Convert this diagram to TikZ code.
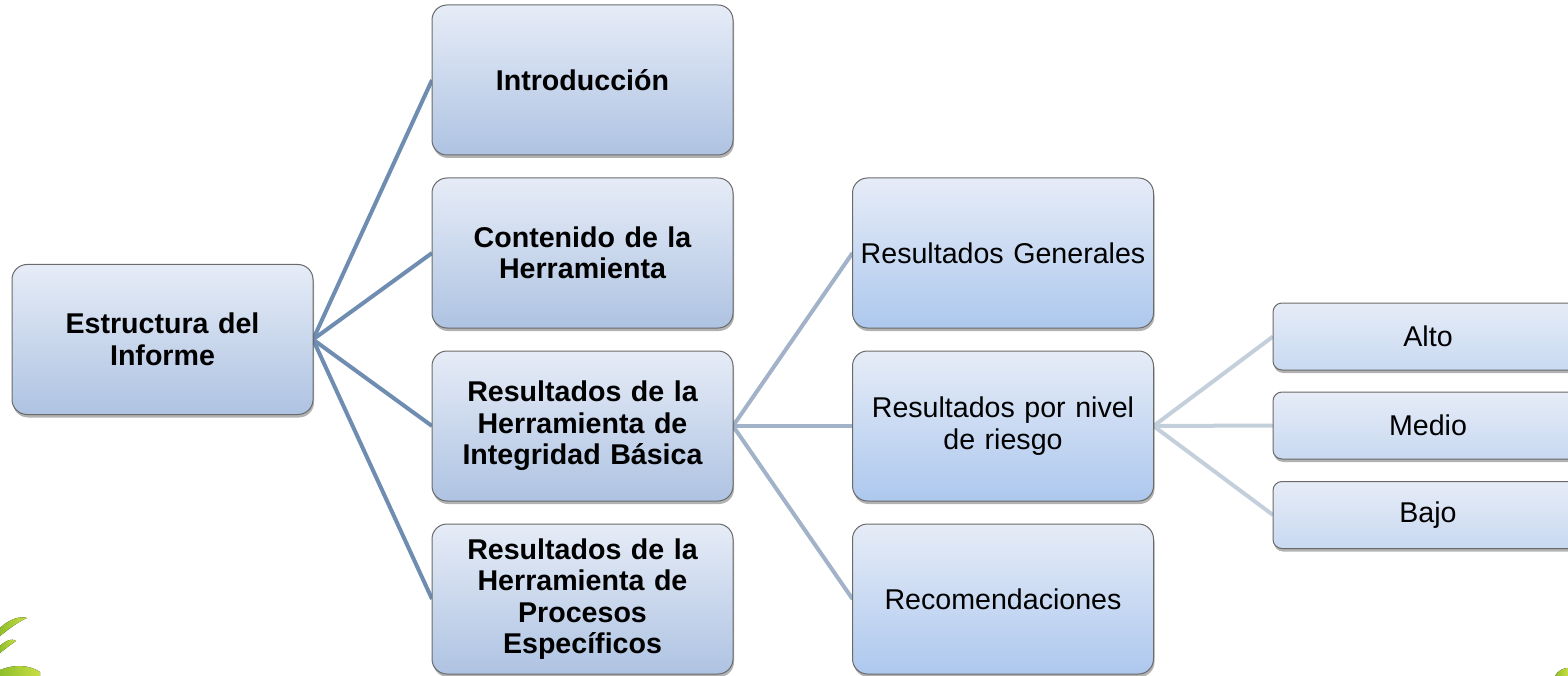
\documentclass[tikz,border=0pt]{standalone}
\usepackage{fontspec}
\setmainfont{Liberation Sans}
\usetikzlibrary{shadows,backgrounds}
\definecolor{boxtop}{HTML}{E6ECF7}
\definecolor{boxbotA}{HTML}{AEC3E2}
\definecolor{boxbotB}{HTML}{ADC8EE}
\definecolor{boxbotC}{HTML}{C8D9F1}
\definecolor{boxline}{HTML}{6A6A6A}
\definecolor{linkA}{HTML}{6F8CB1}
\definecolor{linkB}{HTML}{A2B2C8}
\definecolor{linkC}{HTML}{C4CFDC}
\definecolor{leafA}{HTML}{8FBF2A}
\definecolor{leafB}{HTML}{C9DE45}
\tikzset{
  basebox/.style={draw=boxline, line width=1pt, rounded corners=15pt,
    inner sep=0pt, outer sep=0pt, align=center, text width=290pt,
    font=\fontsize{28.6}{31.5}\selectfont,
    top color=boxtop,
    drop shadow={shadow xshift=1pt, shadow yshift=-3pt, opacity=0.3, fill=black}},
  bigbox/.style={basebox, minimum width=301pt, minimum height=150pt, bottom color=boxbotA},
  midbox/.style={basebox, minimum width=301pt, minimum height=150pt, bottom color=boxbotB},
  smallbox/.style={basebox, rounded corners=9pt, minimum width=310pt, minimum height=67pt, bottom color=boxbotC},
  boldtxt/.style={font=\fontsize{28.6}{31.5}\selectfont\bfseries},
  linkone/.style={draw=linkA, line width=4pt},
  linktwo/.style={draw=linkB, line width=4pt},
  linkthree/.style={draw=linkC, line width=4pt},
  leaf/.style={left color=leafA, right color=leafB, draw=none}
}
\begin{document}
\begin{tikzpicture}[x=1pt, y=-1pt]
\useasboundingbox (0,0) rectangle (1568,676);

% leaves (background decoration)
\fill[leaf] (0,628) .. controls (10,618) and (22,616) .. (27,618) .. controls (18,622) and (10,628) .. (0,636) -- cycle;
\fill[leaf] (0,646) .. controls (6,640) and (12,638) .. (16,641) .. controls (10,645) and (5,649) .. (0,653) -- cycle;
\fill[leaf] (0,670) .. controls (14,664) and (30,665) .. (40,672) -- (40,676) -- (0,676) -- cycle;
\fill[leaf] (1555,676) .. controls (1558,670) and (1564,668) .. (1568,668) -- (1568,676) -- cycle;

% root
\node[bigbox, boldtxt] (root) at (162.5,339.5) {Estructura del\\Informe};

% level 1
\node[bigbox, boldtxt] (intro) at (582.5,80) {Introducción};
\node[bigbox, boldtxt] (cont) at (582.5,253) {Contenido de la\\Herramienta};
\node[bigbox, boldtxt] (rib) at (582.5,426) {Resultados de la\\Herramienta de\\Integridad Básica};
\node[bigbox, boldtxt] (rpe) at (582.5,599) {Resultados de la\\Herramienta de\\Procesos\\Específicos};

% level 2
\node[midbox] (gen) at (1003,253) {Resultados Generales};
\node[midbox] (niv) at (1003,426) {Resultados por nivel\\de riesgo};
\node[midbox] (rec) at (1003,599) {Recomendaciones};

% level 3
\node[smallbox] (alto) at (1428,336.5) {Alto};
\node[smallbox] (medio) at (1428,425.5) {Medio};
\node[smallbox] (bajo) at (1428,515) {Bajo};

\begin{scope}[on background layer]
\draw[linkone] (root.east) -- (intro.west);
\draw[linkone] (root.east) -- (cont.west);
\draw[linkone] (root.east) -- (rib.west);
\draw[linkone] (root.east) -- (rpe.west);
\draw[linktwo] (rib.east) -- (gen.west);
\draw[linktwo] (rib.east) -- (niv.west);
\draw[linktwo] (rib.east) -- (rec.west);
\draw[linkthree] (niv.east) -- (alto.west);
\draw[linkthree] (niv.east) -- (medio.west);
\draw[linkthree] (niv.east) -- (bajo.west);
\end{scope}
\end{tikzpicture}
\end{document}
